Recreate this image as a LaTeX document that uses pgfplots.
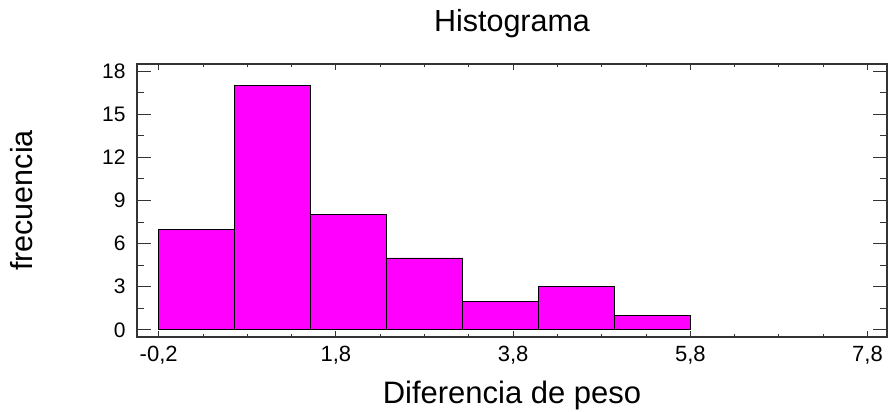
\documentclass[border=0pt]{standalone}
\usepackage{pgfplots}
\pgfplotsset{compat=1.18}
\usepackage{fontspec}
\setmainfont{Liberation Sans}
\definecolor{barra}{RGB}{255,0,255}

\begin{document}
\begin{tikzpicture}
\begin{axis}[
    scale only axis,
    width=750pt, height=273pt,
    xmin=-0.445, xmax=8.02,
    ymin=-0.5, ymax=18.5,
    xtick={-0.2,1.8,3.8,5.8,7.8},
    minor x tick num=3,
    ytick={0,3,...,18},
    minor y tick num=1,
    tick align=inside,
    axis line style={black!80, line width=1.3pt},
    every tick/.style={black!80, line width=1pt},
    xtick style={/pgfplots/major tick length=6pt, /pgfplots/minor tick length=3pt},
    ytick style={/pgfplots/major tick length=14pt, /pgfplots/minor tick length=7pt},
    /pgf/number format/assume math mode=true,
    xticklabel style={font=\fontsize{22}{22}\selectfont, yshift=-6pt,
        /pgf/number format/.cd, fixed, fixed zerofill, precision=1, use comma},
    yticklabel style={font=\fontsize{21}{21}\selectfont, xshift=-8pt},
    clip=false,
]
% 7 clases de ancho 6/7 entre -0,2 y 5,8
\addplot[ybar interval, fill=barra, draw=black, line width=0.8pt] coordinates {
    (-0.2,7) (0.657,17) (1.514,8) (2.371,5) (3.229,2) (4.086,3) (4.943,1) (5.8,1)
};
\node[anchor=base, font=\fontsize{30.5}{30.5}\selectfont] at ([yshift=32pt]rel axis cs:0.5,1) {Histograma};
\node[anchor=base, font=\fontsize{31}{31}\selectfont] at ([yshift=-66pt]rel axis cs:0.5,0) {Diferencia de peso};
\node[anchor=base, rotate=90, font=\fontsize{30.5}{30.5}\selectfont] at ([xshift=-104pt]rel axis cs:0,0.5) {frecuencia};
\end{axis}
\pgfresetboundingbox
\path (-137pt,-75pt) rectangle (752pt,337pt);
\end{tikzpicture}
\end{document}
